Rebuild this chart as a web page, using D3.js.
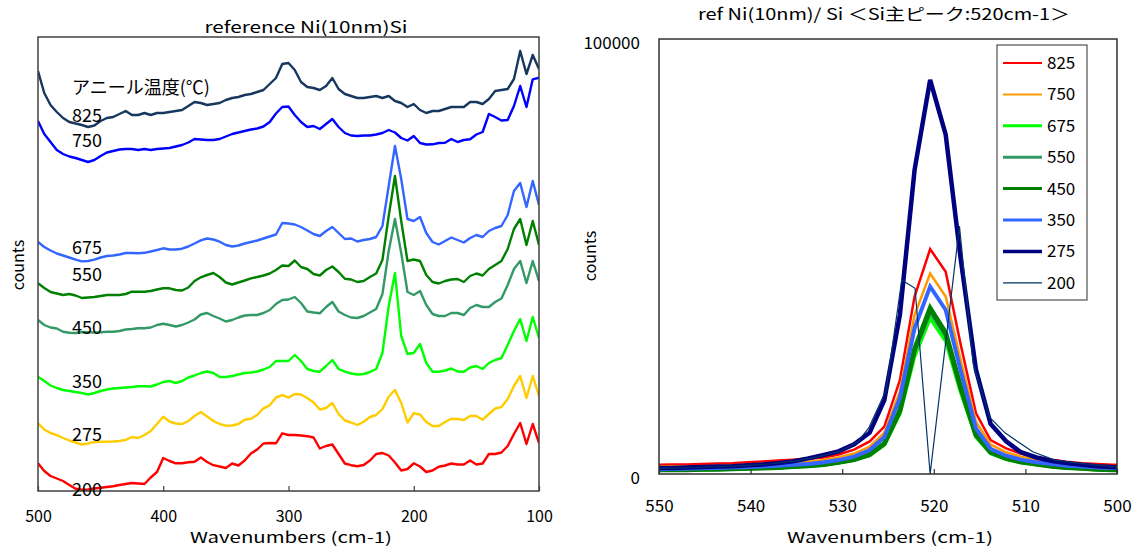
<!DOCTYPE html>
<html><head><meta charset="utf-8">
<script src="https://cdn.jsdelivr.net/npm/d3@7"></script>
<style>
body{margin:0;background:#fff;}
svg text{font-family:"Noto Sans CJK JP","Noto Sans",sans-serif;fill:#000;}
</style></head><body>
<svg id="c" width="1133" height="550"></svg>
<script>
// ---------- LEFT CHART DATA (offset spectra, arbitrary counts) ----------
const waveLeft = [500,495,490,485,480,475,470,465,460,455,450,445,440,435,430,425,420,415,410,405,
  400,395,390,385,380,375,370,365,360,355,350,345,340,335,330,325,320,315,310,305,
  300,295,290,285,280,275,270,265,260,255,250,245,240,235,230,225,220,215,210,205,
  200,195,190,185,180,175,170,165,160,155,150,145,140,135,130,125,120,115,110,105,100];
const leftLabels = ["825","750","675","550","450","350","275","200"];
const leftColors = ["#17375e","#0000ff","#3366ff","#008000","#339966","#00ff00","#ffcc00","#ff0000"];
const s825 = [420,398,386,379,373,369,367.5,366,364,365.5, 370,373,374,377,380,376,376,378,376,378,
  378,379,380,381,385,389,388,386,387,388, 391,393,394,396,397,399,401,407,413,427,
  428,421,409,404,403,401,405,413,402,397, 395,393,393,394,395,393,395,390,388,384,
  387,381,378,380,380,382,384,384,384,389, 389,387,392,400,401,402,412,440,417,436, 422];
const s750 = [370,357,349,341,337,334.5,333,331,329,331, 335,338.5,340,341.5,342,342,341,342,341,342,
  342.5,343,344.5,346,348.5,352,351.5,351,351,352, 354.5,357,358.5,360,361.5,362.5,364.5,369,377.5,384,
  384.5,376,369,364,365,362,367,372,364,358, 355.5,355,355.5,355.5,356.5,358,361,358.5,353,350.5,
  355,348,346.5,346.7,348,348.3,352,349,351,351.7, 356.5,359,377,374,370.5,371,385,405,384,411.7, 413.3];
const s675 = [249,244,240.5,237.5,235.5,233.5,231.3,229.6,230,231.3, 233.5,235,235.5,236.5,238,238,237.8,238.2,239.5,241,
  242.7,241.5,241.5,242.3,244.5,247.5,250.6,252.5,251.5,249.3, 246,244.5,245.5,247.5,249,250.5,252.5,254.5,256.5,268,
  267.5,266.5,264,260.5,257,255,260,264,258,252, 252.5,249.5,251,252,254,265,305,345,312,272,
  270,274,258,249,246.5,250,253.5,251,248.5,253, 256,254,260,263,265,276,300,308,284,310, 286];
const s550 = [207.7,203,199,197.5,196,197,195.5,193,193.5,194, 195,196,196,196,197,199.3,199.3,199.3,200,201.5,
  202.7,202.7,201,200.5,203.5,210,213.7,216,218,214, 208.5,206.5,208.5,210.5,212.7,214,215.5,217.5,221,225.5,
  225,230.5,224,222,217,215.5,221,224.5,219,212.3, 211.5,209,210,214,217.5,231,275,315,270,230,
  231.5,230,216,209,207.5,210,211.5,212,209,215, 217.5,215.5,222,226,230,242,262,272,246,270, 246];
const s450 = [171,166,163.5,162.5,159.3,158.3,158,159,158.8,158.5, 158.7,159.3,159.3,160,161.5,162,162.7,162.7,163.5,166,
  167.2,166,164.5,166,168.5,171.5,176.5,178,175,172.5, 169.5,171,173.5,175.5,176,176,178,181,187,191,
  191.5,194,188,179.5,178.5,177.7,184,189,179.5,176, 173.5,173,175,178.5,182,197,240,272,238,199,
  196,200,186,177,175,175,178,178,176,183, 186,184,184,189,192.5,206,222,230,208,230, 210];
const s350 = [114.3,110,105.5,103,101,100,99,98,96.5,98, 100,101.5,102.5,103,103.5,104,104.7,104.7,104.5,106.5,
  109,110,108,110,113.5,115.5,118,119.5,118,114, 114,115,116.5,118,118.5,119.5,121.5,124,130,130,
  130,136,130,122,120,119.3,125,131,122,119.3, 117.5,116.5,117,119,122,138,185,218,155,137,
  138,147,128,119.3,119.3,120.5,122.5,119.5,119.3,123.5, 125,122,128,131,133,146,160,172,150,174, 153];
const s275 = [67.7,61.5,58,55.8,53,50.5,48.5,46.5,47.5,49, 49.3,49.3,49.5,50,51,54,53,56,60,67,
  74.3,69.5,67.5,67,70,75,79,74.5,70,67, 65.3,65.5,67,71.3,72.3,76,82.7,85.7,93.5,95.8,
  93.5,97,96.5,93,88.5,81.5,83,88,77,70.5, 68.5,66,69.3,74,76,82,94.3,101,88,68.5,
  77.7,76.5,69,65,65,69,72.3,72,71,75, 75,71.3,77,82.5,84,92,105,115,93,115, 95];
const s200 = [27.7,20,15,12.5,10,6,2.3,1.2,1.5,2.5, 3.2,4,4.8,6,7,8,7.5,7,13.5,19,
  33,30,27.7,27.7,28.8,29.3,33.5,29,25.8,24.5, 23,27.5,25.5,30.5,37.5,41.5,47.5,48,47.7,57.7,
  56,56,55.5,54.8,53.5,42.5,45,46.5,37,27.5, 25.8,24.8,26,30.5,37,38,35.5,28.5,20.5,22,
  27.7,24.5,19,20.5,24.3,25.5,27.5,26.5,26.5,30.5, 26.5,27.5,37,37,38.5,45,57,68,47,67, 48];
const leftSeries = [s825,s750,s675,s550,s450,s350,s275,s200];
const leftTicks = [500,400,300,200,100];

// ---------- RIGHT CHART DATA (Si main peak) ----------
const waveSi = [550.3,548.6,547.0,545.3,543.6,542.0,540.3,538.7,537.0,535.4,533.7,532.0,530.4,528.7,527.0,525.4,
  523.7,522.1,520.4,518.7,517.1,515.4,513.8,512.1,510.5,508.8,507.1,505.5,503.8,502.2,500.5,498.8];
const si825 = [2100,2200,2200,2300,2400,2500,2700,2900,3100,3300,3500,3800,4500,5600,7500,10900,
  21600,40800,51700,46500,30100,14000,7800,5900,4700,3900,3300,2800,2500,2300,2100,2100];
const si750 = [1700,1700,1700,1800,1900,2000,2100,2200,2400,2600,2800,3200,3800,4700,6300,9500,
  19000,36500,46100,40800,26500,12000,6800,5000,4000,3300,2800,2400,2100,1900,1800,1800];
const si675 = [900,900,1000,1000,1100,1100,1200,1300,1400,1600,1800,2100,2600,3200,4300,6700,
  13800,27000,35800,30500,19000,8500,4700,3400,2600,2100,1700,1400,1200,1000,900,900];
const si550 = [1000,1000,1000,1100,1100,1200,1300,1400,1500,1700,1900,2200,2700,3300,4500,7000,
  14500,28300,37300,31800,19800,8900,5000,3600,2800,2300,1800,1500,1300,1100,1000,900];
const si450 = [1000,1000,1000,1100,1100,1200,1300,1400,1500,1700,1900,2200,2700,3300,4500,7000,
  14600,28700,38100,32400,20200,9000,5000,3600,2800,2300,1800,1500,1300,1100,1000,900];
const si350 = [1100,1200,1200,1300,1400,1500,1600,1700,1900,2100,2300,2700,3200,4000,5500,8500,
  17500,33500,43100,37700,24000,10500,5800,4200,3300,2700,2300,1900,1700,1500,1400,1400];
const si275 = [1400,1400,1500,1600,1700,1800,2000,2200,2500,2900,3600,4400,5200,6800,9500,17000,
  36600,69900,90600,78000,50000,24000,11500,7500,5000,3800,3000,2500,2100,1800,1600,1500];
const wave200 = [550.3,546,542,538,535,532.5,530.1,528.3,527.1,525.2,523.5,522.05,520.4,517.2,515.7,513.9,512.2,509.2,506.8,504.2,500];
const si200 = [1300,1500,1800,2300,3000,4000,5300,7400,10600,19300,44600,42700,0,57000,25400,13000,9400,5100,3200,2500,1600];
const rightLabels = ["825","750","675","550","450","350","275","200"];
const rightColors = ["#ff0000","#ff9900","#00ff00","#339966","#008000","#3366ff","#000080","#003366"];
const rightWidths = [2.5,2.5,3.5,4,5,4,4.5,1.2];
const legendWidths = [2,2,3,3,3,3,3.5,1.2];
const rightTicks = [550,540,530,520,510,500];

// ---------- DRAW ----------
const svg = d3.select('#c');

// LEFT
const L = {x0:38, x1:539, y0:37, y1:491};
const xL = d3.scaleLinear().domain([500,100]).range([L.x0,L.x1]);
const yL = d3.scaleLinear().domain([0,454]).range([L.y1,L.y0]);
svg.append('defs').append('clipPath').attr('id','clipL').append('rect')
  .attr('x',L.x0).attr('y',L.y0).attr('width',L.x1-L.x0).attr('height',L.y1-L.y0);
const gL = svg.append('g');
const lineL = d3.line().x((d,i)=>xL(waveLeft[i])).y(d=>yL(d));
leftSeries.forEach((s,k)=>{
  gL.append('path').attr('d',lineL(s)).attr('fill','none')
    .attr('stroke',leftColors[k]).attr('stroke-width',2.4).attr('stroke-linejoin','round')
    .attr('clip-path','url(#clipL)');
});
gL.append('rect').attr('x',L.x0).attr('y',L.y0).attr('width',L.x1-L.x0).attr('height',L.y1-L.y0)
  .attr('fill','none').attr('stroke','#404040').attr('stroke-width',1.5);
const axL = svg.append('g').attr('transform',`translate(0,${L.y1})`)
  .call(d3.axisBottom(xL).tickValues(leftTicks).tickSizeInner(-5).tickSizeOuter(0).tickPadding(20));
axL.select('.domain').remove();
axL.selectAll('line').attr('stroke','#404040').attr('stroke-width',1.2);
axL.selectAll('text').style('font-size','16px').attr('font-family','"Noto Sans CJK JP"');
// left label texts
const leftLabelY = [116,141,248,275,328,382,435,490];
svg.append('text').attr('x',72).attr('y',88).attr('dy','0.35em').style('font-size','18px').text('アニール温度(℃)');
leftLabels.forEach((t,i)=>{
  svg.append('text').attr('x',72).attr('y',leftLabelY[i]).attr('dy','0.35em').style('font-size','18px').text(t);
});
svg.append('text').attr('x',306).attr('y',27).attr('dy','0.35em').attr('text-anchor','middle')
  .style('font-size','16px').attr('textLength',203).attr('lengthAdjust','spacingAndGlyphs').text('reference  Ni(10nm)Si');
svg.append('text').attr('x',291).attr('y',538).attr('dy','0.35em').attr('text-anchor','middle')
  .style('font-size','15px').attr('textLength',202).attr('lengthAdjust','spacingAndGlyphs').text('Wavenumbers (cm-1)');
svg.append('text').attr('transform','translate(18,265) rotate(-90)').attr('dy','0.35em').attr('text-anchor','middle')
  .style('font-size','16px').text('counts');

// RIGHT
const R = {x0:659, x1:1117, y0:39, y1:474};
const xR = d3.scaleLinear().domain([550,500]).range([R.x0,R.x1]);
const yR = d3.scaleLinear().domain([0,100000]).range([R.y1,R.y0]);
svg.select('defs').append('clipPath').attr('id','clipR').append('rect')
  .attr('x',R.x0).attr('y',R.y0).attr('width',R.x1-R.x0).attr('height',R.y1-R.y0);
const rightSeries = [si825,si750,si675,si550,si450,si350,si275];
const lineR = d3.line().x((d,i)=>xR(waveSi[i])).y(d=>yR(d));
const gR = svg.append('g').attr('clip-path','url(#clipR)');
rightSeries.forEach((s,k)=>{
  gR.append('path').attr('d',lineR(s)).attr('fill','none')
    .attr('stroke',rightColors[k]).attr('stroke-width',rightWidths[k]).attr('stroke-linejoin','miter');
});
const line200 = d3.line().x((d,i)=>xR(wave200[i])).y(d=>yR(d));
gR.append('path').attr('d',line200(si200)).attr('fill','none')
  .attr('stroke',rightColors[7]).attr('stroke-width',rightWidths[7]);
svg.append('rect').attr('x',R.x0).attr('y',R.y0).attr('width',R.x1-R.x0).attr('height',R.y1-R.y0)
  .attr('fill','none').attr('stroke','#303030').attr('stroke-width',1.5);
const axR = svg.append('g').attr('transform',`translate(0,${R.y1})`)
  .call(d3.axisBottom(xR).tickValues(rightTicks).tickSizeInner(-5).tickSizeOuter(0).tickPadding(26).tickFormat(d3.format('d')));
axR.select('.domain').remove();
axR.selectAll('line').attr('stroke','#303030').attr('stroke-width',1.2);
axR.selectAll('text').style('font-size','17px').attr('font-family','"Noto Sans CJK JP"');
const axRY = svg.append('g').attr('transform',`translate(${R.x0},0)`)
  .call(d3.axisLeft(yR).tickValues([0,100000]).tickSize(0).tickPadding(19).tickFormat(d3.format('d')));
axRY.select('.domain').remove();
axRY.selectAll('text').style('font-size','17px').attr('font-family','"Noto Sans CJK JP"').attr('dy','0.55em');
svg.append('text').attr('x',884).attr('y',14).attr('dy','0.35em').attr('text-anchor','middle')
  .style('font-size','16px').attr('textLength',372).attr('lengthAdjust','spacingAndGlyphs')
  .text('ref Ni(10nm)/ Si  ＜Si主ピーク:520cm-1＞');
svg.append('text').attr('x',890).attr('y',538).attr('dy','0.35em').attr('text-anchor','middle')
  .style('font-size','15px').attr('textLength',206).attr('lengthAdjust','spacingAndGlyphs').text('Wavenumbers (cm-1)');
svg.append('text').attr('transform','translate(590,256) rotate(-90)').attr('dy','0.35em').attr('text-anchor','middle')
  .style('font-size','16px').text('counts');
// legend
const lg = svg.append('g');
lg.append('rect').attr('x',997).attr('y',45).attr('width',90).attr('height',255)
  .attr('fill','#fff').attr('stroke','#505050').attr('stroke-width',1.2);
rightLabels.forEach((t,i)=>{
  const y = 63 + i*31.4;
  lg.append('line').attr('x1',1003).attr('x2',1042).attr('y1',y).attr('y2',y)
    .attr('stroke',rightColors[i]).attr('stroke-width',legendWidths[i]);
  lg.append('text').attr('x',1047).attr('y',y).attr('dy','0.35em').style('font-size','17px').text(t);
});
</script>
</body></html>
